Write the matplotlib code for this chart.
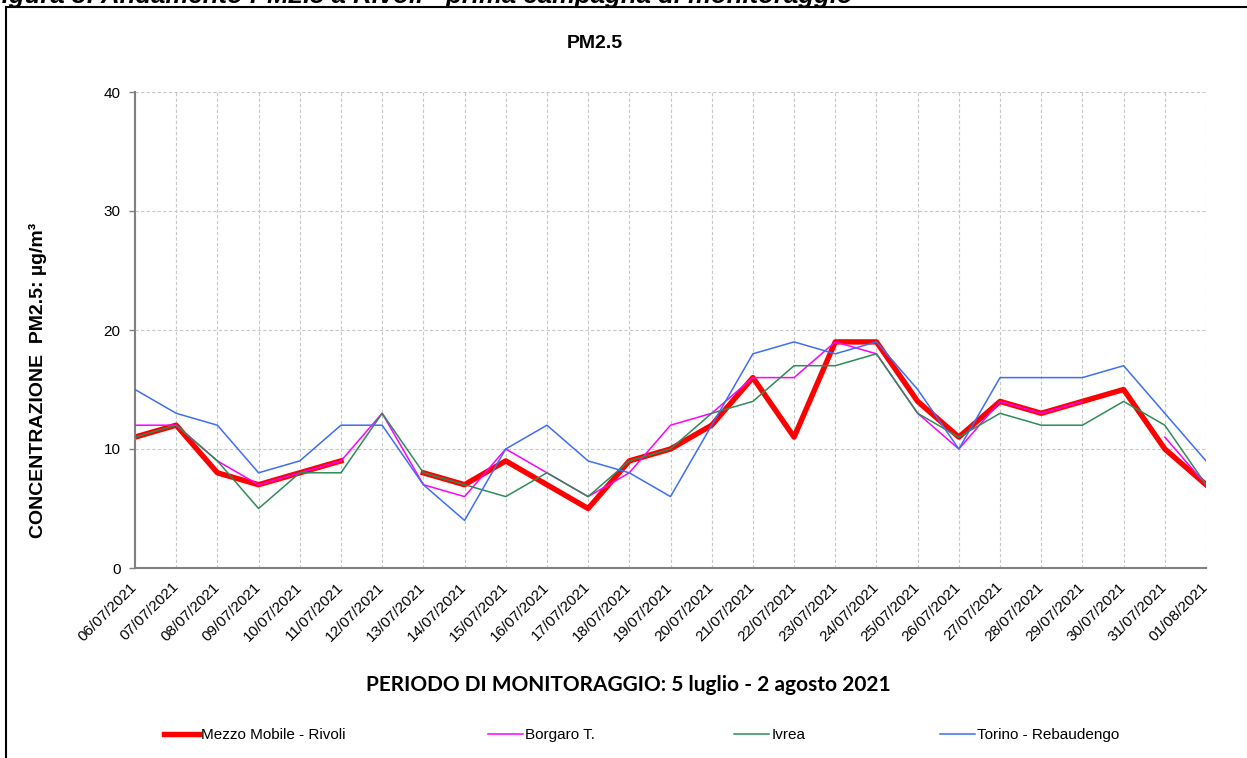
import numpy as np
import matplotlib
matplotlib.use('Agg')
import matplotlib.pyplot as plt
from matplotlib.patches import Rectangle

plt.rcParams['font.family'] = ['Liberation Sans', 'DejaVu Sans']

dates = ['06/07/2021', '07/07/2021', '08/07/2021', '09/07/2021', '10/07/2021', '11/07/2021',
         '12/07/2021', '13/07/2021', '14/07/2021', '15/07/2021', '16/07/2021', '17/07/2021',
         '18/07/2021', '19/07/2021', '20/07/2021', '21/07/2021', '22/07/2021', '23/07/2021',
         '24/07/2021', '25/07/2021', '26/07/2021', '27/07/2021', '28/07/2021', '29/07/2021',
         '30/07/2021', '31/07/2021', '01/08/2021']
rivoli = [11, 12, 8, 7, 8, 9, None, 8, 7, 9, 7, 5, 9, 10, 12, 16, 11, 19, 19, 14, 11, 14, 13, 14, 15, 10, 7]
borgaro = [12, 12, 9, 7, 8, 9, 13, 7, 6, 10, 8, 6, 8, 12, 13, 16, 16, 19, 18, 13, 10, 14, 13, 14, None, 11, 7]
ivrea = [11, 12, 9, 5, 8, 8, 13, 8, 7, 6, 8, 6, 9, 10, 13, 14, 17, 17, 18, 13, 11, 13, 12, 12, 14, 12, 7]
torino = [15, 13, 12, 8, 9, 12, 12, 7, 4, 10, 12, 9, 8, 6, 12, 18, 19, 18, 19, 15, 10, 16, 16, 16, 17, 13, 9]

series = [
    ('Mezzo Mobile - Rivoli', rivoli, '#FF0000', 3.9),
    ('Borgaro T.', borgaro, '#FF00FF', 1.1),
    ('Ivrea', ivrea, '#2E8B57', 1.1),
    ('Torino - Rebaudengo', torino, '#3D6EF5', 1.1),
]

W, H = 1247, 758
fig = plt.figure(figsize=(W / 100, H / 100), dpi=100)
ax = fig.add_axes([135 / W, 1 - 568 / H, (1206 - 135) / W, (568 - 92) / H])

x = np.arange(len(dates))
handles = []
for name, vals, color, lw in series:
    y = np.array([np.nan if v is None else v for v in vals], dtype=float)
    h, = ax.plot(x, y, color=color, lw=lw, label=name, zorder=3 if lw < 2 else 2)
    handles.append(h)

ax.set_xlim(0, len(dates) - 1)
ax.set_ylim(0, 40)
ax.set_yticks([0, 10, 20, 30, 40])
ax.set_xticks(x)
ax.set_xticklabels(dates, rotation=45, ha='right', va='center', rotation_mode='anchor', fontsize=11)
ax.tick_params(axis='x', length=0, pad=12)
ax.tick_params(axis='y', length=4.5, width=1, color='#808080', labelsize=11, pad=6)
ax.grid(True, color='#C8C8C8', ls=(0, (3, 2)), lw=0.8)
ax.set_axisbelow(True)
for s in ['top', 'right']:
    ax.spines[s].set_visible(False)
for s in ['left', 'bottom']:
    ax.spines[s].set_color('#808080')
    ax.spines[s].set_linewidth(1.5)

fig.text(595 / W, 1 - 43 / H, 'PM2.5', ha='center', va='center', fontsize=14, fontweight='bold')
fig.text(38 / W, 1 - 380 / H, 'CONCENTRAZIONE  PM2.5: µg/m³', rotation=90, ha='center', va='center',
         fontsize=14, fontweight='bold')
fig.text(628 / W, 1 - 685 / H, 'PERIODO DI MONITORAGGIO: 5 luglio - 2 agosto 2021', ha='center',
         va='center', fontsize=15, fontweight='bold', family=['Lato', 'DejaVu Sans'])
fig.text(-14 / W, 1 - 3 / H, 'Figura 3: Andamento PM2.5 a Rivoli - prima campagna di monitoraggio',
         ha='left', va='baseline', fontsize=18.5, fontweight='bold', style='italic')

# legend entries placed one by one
leg_x = [164, 488, 734, 940]
for h, lx in zip(handles, leg_x):
    lg = fig.legend([h], [h.get_label()], loc='center left', bbox_to_anchor=(lx / W, 1 - 735 / H),
                    frameon=False, handlelength=2.3, handletextpad=0.15, borderaxespad=0, borderpad=0,
                    prop={'size': 11})

fig.patches.append(Rectangle((6 / W, -0.05), 1.2, 1.05 - 7 / H, transform=fig.transFigure,
                             fill=False, edgecolor='black', lw=1.5))

fig.savefig('out.png', dpi=100)
